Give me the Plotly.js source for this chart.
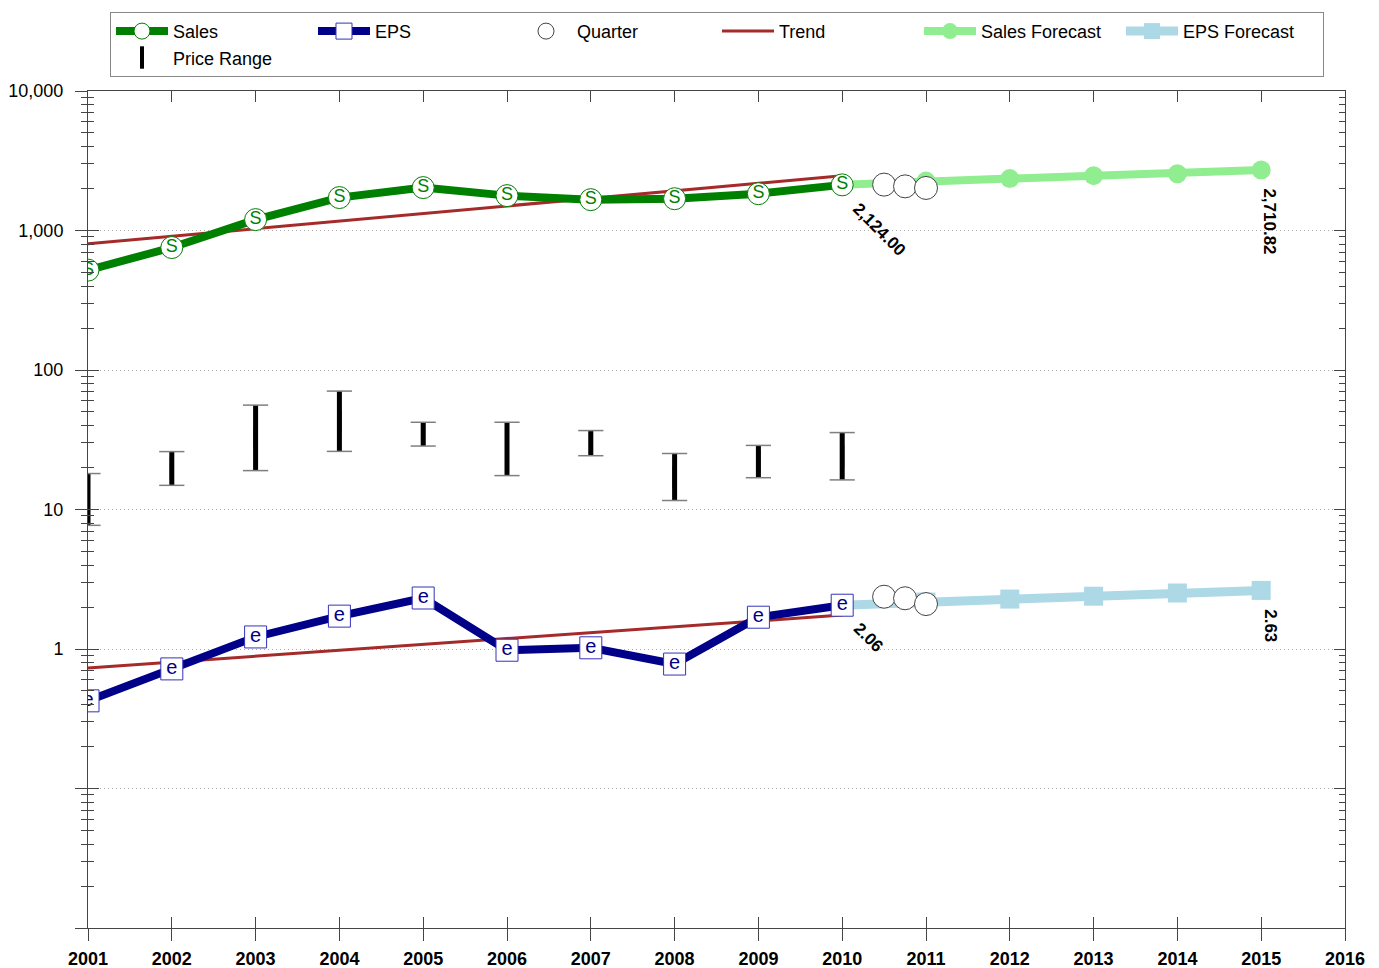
<!DOCTYPE html>
<html><head><meta charset="utf-8">
<script src="https://cdn.plot.ly/plotly-3.0.1.min.js"></script>
<style>html,body{margin:0;padding:0;background:#fff}#chart{width:1379px;height:968px}</style>
</head><body><div id="chart"></div>
<script>
// ---- data ----
const years = [2001, 2002, 2003, 2004, 2005, 2006, 2007, 2008, 2009, 2010];
const sales = [520, 755, 1197, 1722, 2030, 1778, 1664, 1690, 1836, 2124];
const eps = [0.425, 0.72, 1.22, 1.72, 2.32, 0.98, 1.02, 0.78, 1.69, 2.06];
const forecastYears = [2010, 2011, 2012, 2013, 2014, 2015];
const salesForecast = [2124, 2260, 2355, 2473, 2555, 2710.82];
const epsForecast = [2.06, 2.17, 2.28, 2.39, 2.52, 2.63];
const quarters = [2010.5, 2010.75, 2011];
const salesQuarter = [2133, 2072, 2018];
const epsQuarter = [2.37, 2.31, 2.10];
const trendYears = [2001, 2010];
const salesTrend = [802, 2473];
const epsTrend = [0.732, 1.75];
const priceHigh = [18.1, 26.0, 56.0, 70.6, 42.2, 42.2, 36.8, 25.2, 28.8, 35.6];
const priceLow = [7.7, 14.9, 19.0, 26.1, 28.5, 17.5, 24.3, 11.6, 16.9, 16.3];
const xTicks = [2001, 2002, 2003, 2004, 2005, 2006, 2007, 2008, 2009, 2010, 2011, 2012, 2013, 2014, 2015, 2016];
const yTicks = [0.01, 0.1, 1, 10, 100, 1000, 10000];
const yTickText = ['', '', '1', '10', '100', '1,000', '10,000'];
const salesLabels = years.map(() => 'S');
const epsLabels = years.map(() => 'e');

// ---- styles ----
const FONT = 'Liberation Sans, Arial, sans-serif';
const GREEN = '#008000', NAVY = '#000088', LGREEN = '#90ee90', LBLUE = '#add8e6', TREND = '#a52a2a';

const priceMid = priceHigh.map((h, i) => Math.sqrt(h * priceLow[i]));

const traces = [
  { name: 'Trend', legendrank: 4, type: 'scatter', mode: 'lines',
    x: trendYears.concat([null], trendYears), y: salesTrend.concat([null], epsTrend),
    line: { color: TREND, width: 3 }, hoverinfo: 'skip' },
  { name: 'Sales Forecast', legendrank: 5, type: 'scatter', mode: 'lines+markers',
    x: forecastYears, y: salesForecast,
    line: { color: LGREEN, width: 8 }, marker: { color: LGREEN, size: 19, symbol: 'circle' } },
  { name: 'EPS Forecast', legendrank: 6, type: 'scatter', mode: 'lines+markers',
    x: forecastYears, y: epsForecast,
    line: { color: LBLUE, width: 9 }, marker: { color: LBLUE, size: 19, symbol: 'square' } },
  { name: 'Sales', legendrank: 1, type: 'scatter', mode: 'lines+markers',
    x: years, y: sales,
    line: { color: GREEN, width: 8 },
    marker: { color: 'white', size: 22, symbol: 'circle', line: { color: GREEN, width: 1 } } },
  { name: 'EPS', legendrank: 2, type: 'scatter', mode: 'lines+markers',
    x: years, y: eps,
    line: { color: NAVY, width: 8 },
    marker: { color: 'white', size: 22, symbol: 'square', line: { color: '#3333bb', width: 1 } } },
  { name: 'Quarter', legendrank: 3, type: 'scatter', mode: 'markers',
    x: quarters.concat(quarters), y: salesQuarter.concat(epsQuarter),
    marker: { color: 'white', size: 23, symbol: 'circle', line: { color: '#444', width: 1 } } },
  { name: 'Price Range', legendrank: 7, type: 'scatter', mode: 'markers',
    x: years, y: priceMid,
    marker: { color: 'black', size: 16, symbol: 'line-ns-open', line: { color: 'black', width: 4 } },
    error_y: { type: 'data', symmetric: false,
      array: priceHigh.map((h, i) => h - priceMid[i]),
      arrayminus: priceLow.map((l, i) => priceMid[i] - l),
      color: 'black', thickness: 5, width: 0 } },
  { name: 'caps', showlegend: false, type: 'scatter', mode: 'markers', hoverinfo: 'skip',
    x: years.concat(years), y: priceHigh.concat(priceLow),
    marker: { size: 18, symbol: 'line-ew-open', line: { color: '#555', width: 1.5 } } },
  { name: 'salesText', showlegend: false, type: 'scatter', mode: 'text', hoverinfo: 'skip',
    x: years, y: sales, text: salesLabels, textposition: 'middle center',
    textfont: { family: FONT, size: 18, color: GREEN } },
  { name: 'epsText', showlegend: false, type: 'scatter', mode: 'text', hoverinfo: 'skip',
    x: years, y: eps, text: epsLabels, textposition: 'middle center',
    textfont: { family: FONT, size: 20, color: NAVY } },
  { name: 'overlay', showlegend: false, type: 'scatter', mode: 'markers', hoverinfo: 'skip',
    x: [null], y: [null], xaxis: 'x2', yaxis: 'y2' }
];

const annFont = { family: FONT, size: 17, color: 'black', weight: 'bold' };
const lastSales = sales[sales.length - 1], lastEps = eps[eps.length - 1];
const lastFY = forecastYears[forecastYears.length - 1];
const annotations = [
  { x: years[years.length - 1], y: Math.log10(lastSales), text: lastSales.toLocaleString('en-US', { minimumFractionDigits: 2 }),
    textangle: 45, xanchor: 'left', yanchor: 'top', xshift: 4, yshift: -12, showarrow: false, font: annFont },
  { x: years[years.length - 1], y: Math.log10(lastEps), text: lastEps.toFixed(2),
    textangle: 45, xanchor: 'left', yanchor: 'top', xshift: 5, yshift: -11, showarrow: false, font: annFont },
  { x: lastFY, y: Math.log10(salesForecast[salesForecast.length - 1]),
    text: salesForecast[salesForecast.length - 1].toLocaleString('en-US', { minimumFractionDigits: 2 }),
    textangle: 90, xanchor: 'left', yanchor: 'top', xshift: -3, yshift: -16, showarrow: false, font: annFont },
  { x: lastFY, y: Math.log10(epsForecast[epsForecast.length - 1]), text: epsForecast[epsForecast.length - 1].toFixed(2),
    textangle: 90, xanchor: 'left', yanchor: 'top', xshift: -3, yshift: -17, showarrow: false, font: annFont }
];

const AX = '#444';
const layout = {
  width: 1379, height: 968,
  margin: { l: 88, r: 34, t: 89, b: 40 },
  paper_bgcolor: 'white', plot_bgcolor: 'white',
  font: { family: FONT, size: 18, color: 'black' },
  showlegend: true,
  legend: {
    orientation: 'h', x: 0.0175, y: 1.0945, xanchor: 'left', yanchor: 'top',
    bordercolor: '#888', borderwidth: 1, bgcolor: 'white',
    font: { family: FONT, size: 18, color: 'black' },
    itemwidth: 52,
    entrywidth: 135, entrywidthmode: 'pixels', traceorder: 'normal'
  },
  xaxis: {
    range: [2001, 2016], tickmode: 'array', tickvals: xTicks, ticktext: xTicks.map(String),
    ticks: 'outside', ticklen: 12, tickcolor: AX, tickwidth: 1,
    showline: true, linecolor: AX, linewidth: 1, mirror: true,
    showgrid: false, zeroline: false,
    tickfont: { family: FONT, size: 18, color: 'black', weight: 'bold' }, ticklabelstandoff: 2
  },
  xaxis2: {
    overlaying: 'x', anchor: 'y2', range: [2001, 2016], tickmode: 'array', tickvals: xTicks,
    ticks: 'inside', ticklen: 11, tickcolor: AX, mirror: 'ticks', showline: true, linecolor: AX,
    showticklabels: false, showgrid: false, zeroline: false
  },
  yaxis: {
    type: 'log', range: [-2, 4], tickmode: 'array', tickvals: yTicks, ticktext: yTickText,
    ticks: 'outside', ticklen: 12, tickcolor: AX, tickwidth: 1,
    showline: true, linecolor: AX, linewidth: 1, mirror: true,
    showgrid: true, gridcolor: '#aaa', griddash: '1px,3px', gridwidth: 1, zeroline: false,
    tickfont: { family: FONT, size: 18, color: 'black' }, ticklabelstandoff: 8,
    minor: { dtick: 'D1', ticks: 'outside', ticklen: 6, tickcolor: AX, showgrid: false }
  },
  yaxis2: {
    type: 'log', overlaying: 'y', anchor: 'x2', range: [-2, 4], tickmode: 'array', tickvals: yTicks,
    ticks: 'inside', ticklen: 11, tickcolor: AX, mirror: 'ticks', showline: true, linecolor: AX,
    showticklabels: false, showgrid: false, zeroline: false,
    minor: { dtick: 'D1', ticks: 'inside', ticklen: 6, tickcolor: AX, showgrid: false }
  },
  annotations: annotations
};

Plotly.newPlot('chart', traces, layout, { displayModeBar: false, staticPlot: true });
</script>
</body></html>
